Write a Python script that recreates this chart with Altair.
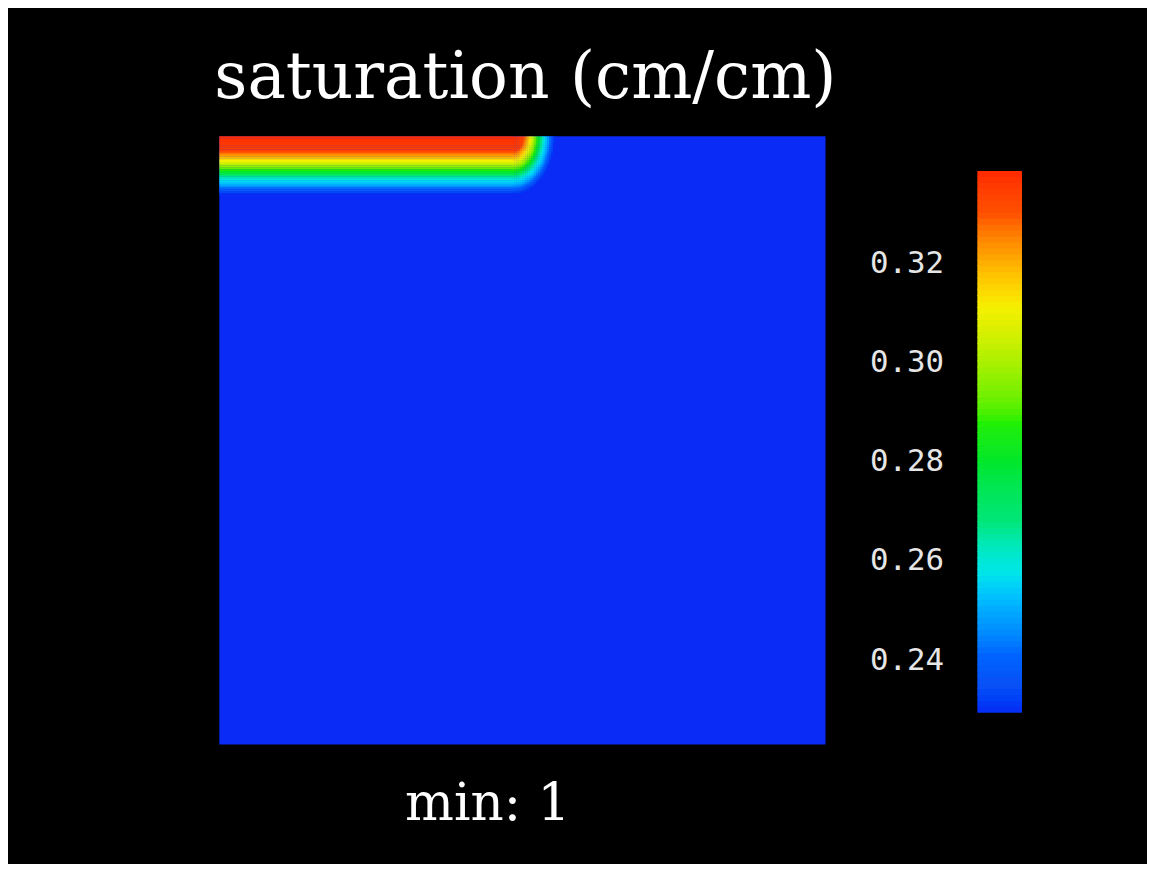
import altair as alt
import numpy as np
import pandas as pd

# colour stops of the colour bar (saturation value -> colour)
stop_values = [0.2294, 0.235, 0.241, 0.250, 0.258, 0.268, 0.280, 0.288,
               0.297, 0.304, 0.311, 0.318, 0.323, 0.330, 0.3386]
stop_colors = ["#0a2af5", "#0a50f5", "#0064ff", "#00aaff", "#00e6e6",
               "#00e678", "#00e628", "#20f000", "#90f000", "#c8f000",
               "#f5f000", "#ffc000", "#ff9600", "#ff5000", "#ff2800"]

# vertical saturation profile under the infiltration strip (depth in cm)
depth_cm = [0.0, 2.45, 2.8, 3.45, 4.1, 4.9, 5.7, 6.5, 7.2, 8.0, 8.8, 9.5]
saturation = [0.338, 0.334, 0.327, 0.319, 0.310, 0.298, 0.285, 0.268,
              0.258, 0.250, 0.238, 0.2294]

initial_saturation = 0.2294   # background value of the domain
strip_end_cm = 48.4           # end of the wetted strip along the surface
front_stretch = 1.38          # lateral compression of the wetting front
domain_cm = [0, 100]

tick_values = [0.24, 0.26, 0.28, 0.30, 0.32]
bar_domain = [0.2294, 0.3456]
bar_top = 0.3386

# ---- heat-map cells -------------------------------------------------------
step = 0.3
pad = 0.05
rows = [{"x": domain_cm[0], "x2": domain_cm[1], "y": domain_cm[0],
         "y2": domain_cm[1], "s": initial_saturation}]
for d in np.arange(0, 10, step):
    dc = d + step / 2
    s = float(np.interp(dc, depth_cm, saturation, right=initial_saturation))
    if s > initial_saturation + 1e-4:
        rows.append({"x": 0.0, "x2": strip_end_cm + pad, "y": d,
                     "y2": d + step + pad, "s": s})
for x in np.arange(strip_end_cm, 60, step):
    for d in np.arange(0, 10, step):
        xc, dc = x + step / 2, d + step / 2
        lateral = (xc - strip_end_cm) * front_stretch
        r = float(np.hypot(lateral, dc))
        s = float(np.interp(r, depth_cm, saturation, right=initial_saturation))
        if s <= initial_saturation + 1e-4:
            continue
        rows.append({"x": x, "x2": x + step + pad, "y": d,
                     "y2": d + step + pad, "s": s})
heat_df = pd.DataFrame(rows)

color_scale = alt.Scale(domain=stop_values, range=stop_colors,
                        type="linear", clamp=True)

heat = alt.Chart(heat_df).mark_rect().encode(
    x=alt.X("x:Q", scale=alt.Scale(domain=domain_cm, nice=False, zero=False),
            axis=alt.Axis(labels=False, ticks=False, domain=False, grid=False,
                          title="min: 1", titleFont="DejaVu Serif",
                          titleFontSize=52, titleFontWeight="normal",
                          titleColor="white", titlePadding=35, titleX=270)),
    x2="x2:Q",
    y=alt.Y("y:Q", scale=alt.Scale(domain=domain_cm, reverse=True, nice=False,
                                   zero=False), axis=None),
    y2="y2:Q",
    color=alt.Color("s:Q", scale=color_scale, legend=None),
).properties(width=611, height=613)

# ---- colour bar -----------------------------------------------------------
bstep = 0.0012
lo = np.arange(stop_values[0], bar_top, bstep)
cbar_df = pd.DataFrame({
    "a": 0, "b": 1,
    "y": lo,
    "y2": np.minimum(lo + bstep + 0.0002, bar_top),
    "s": lo + bstep / 2,
})

cbar = alt.Chart(cbar_df).mark_rect().encode(
    x=alt.X("a:Q", scale=alt.Scale(domain=[0, 1], nice=False), axis=None),
    x2="b:Q",
    y=alt.Y("y:Q", scale=alt.Scale(domain=bar_domain, nice=False, zero=False),
            axis=alt.Axis(orient="left", values=tick_values, format=".2f",
                          domain=False, ticks=False, grid=False,
                          labelFont="DejaVu Sans Mono", labelFontSize=31,
                          labelColor="#e6e6e6", labelPadding=34, title=None)),
    y2="y2:Q",
    color=alt.Color("s:Q", scale=color_scale, legend=None),
).properties(width=45, height=581)

chart = alt.hconcat(heat, cbar, spacing=42).properties(
    title=alt.TitleParams(text="saturation (cm/cm)", font="DejaVu Serif",
                          fontSize=65, fontWeight="normal", color="white",
                          anchor="start", align="center", dx=309,
                          baseline="bottom", offset=-41),
    padding={"left": 207, "top": 35, "right": 125, "bottom": 30},
    background="black",
).configure_view(stroke="transparent")

chart.save("out.html", embed_options={"renderer": "svg", "actions": False})
